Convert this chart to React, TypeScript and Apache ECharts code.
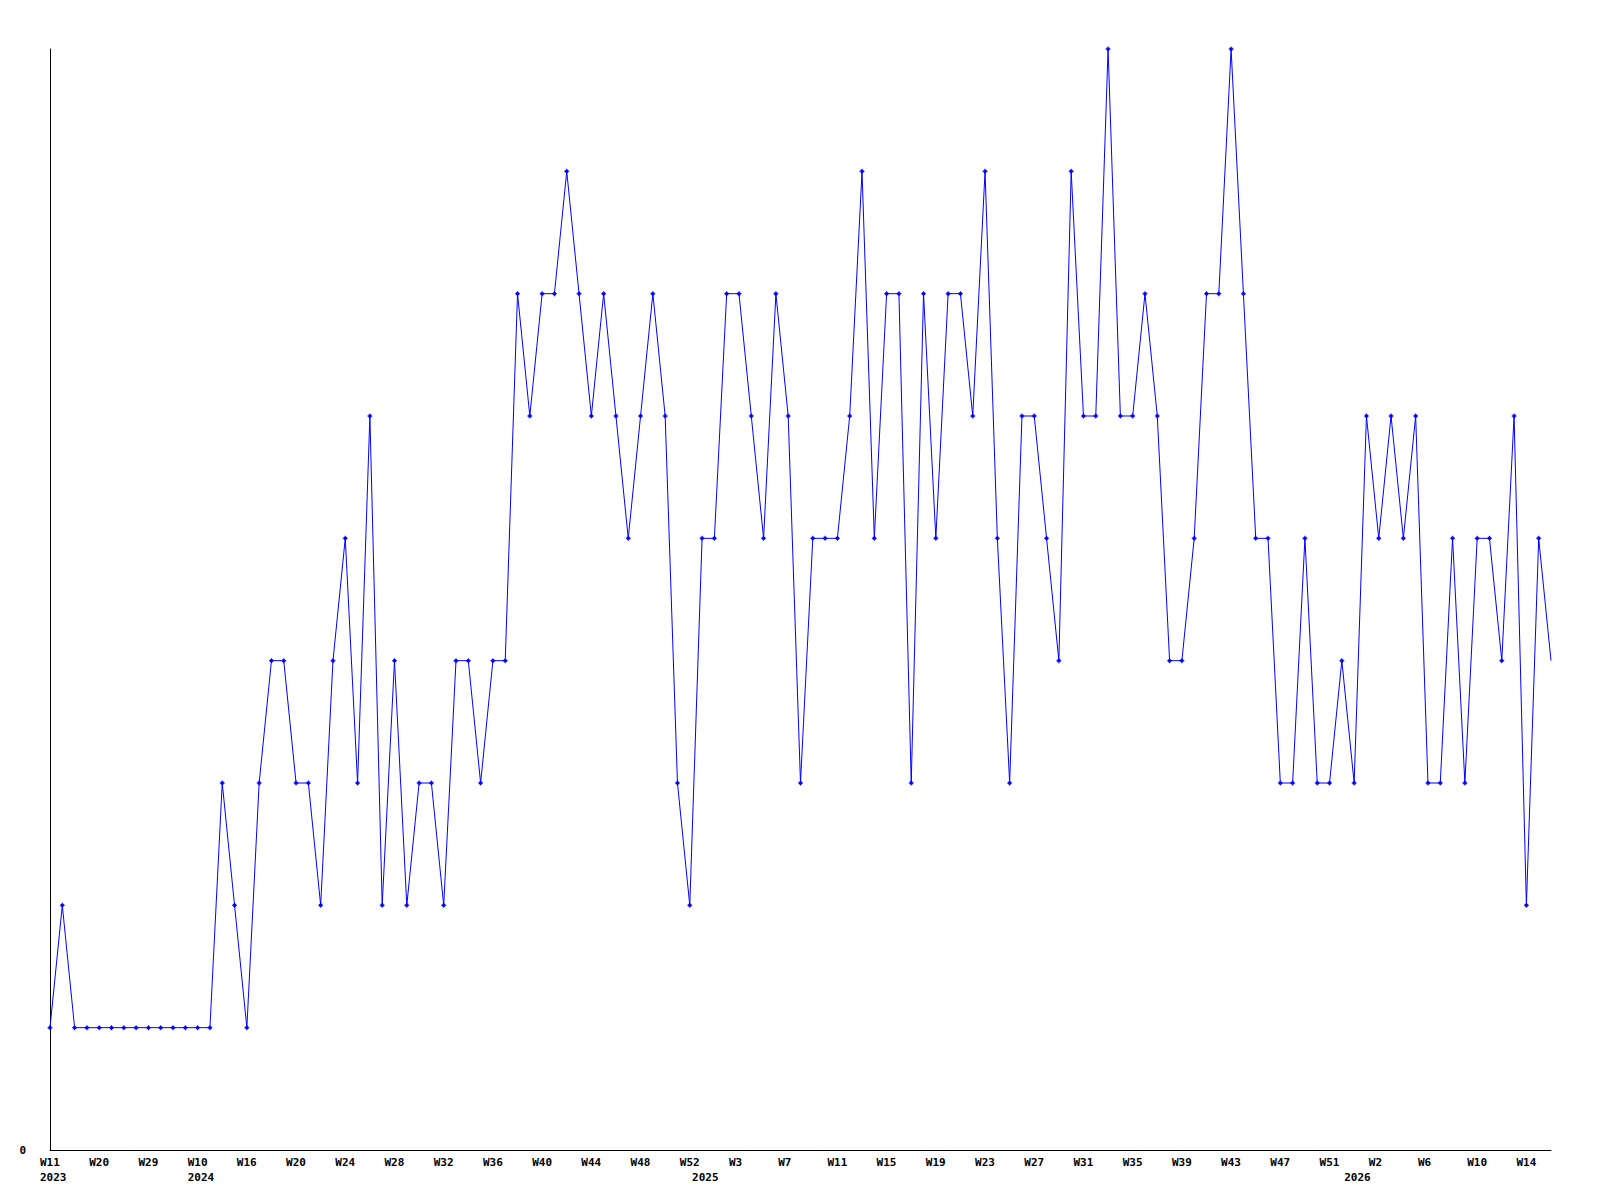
import React, { useEffect, useRef } from "react";
import * as echarts from "echarts";

// Week numbers of each point, grouped by year
const weeks2023 = [11, 13, 16, 18, 20, 22, 25, 27, 29, 31, 35, 38];
const weeks2024 = [10, 12, 13, 15, 16, 17, 18, 19, 20, 21, 22, 23, 24, 25, 26, 27, 28, 29, 30, 31, 32, 33, 34, 35, 36, 37, 38, 39, 40, 41, 42, 43, 44, 45, 46, 47, 48, 49, 50, 51, 52];
const weeks2025 = [0, 1, 2, 3, 4, 5, 6, 7, 8, 9, 10, 11, 12, 13, 14, 15, 16, 17, 18, 19, 20, 21, 22, 23, 24, 25, 26, 27, 28, 29, 30, 31, 32, 33, 34, 35, 36, 37, 38, 39, 40, 41, 42, 43, 44, 45, 46, 47, 48, 49, 50, 51, 52];
const weeks2026 = [0, 1, 2, 3, 4, 5, 6, 7, 8, 9, 10, 11, 12, 13, 14, 15, 16];

const values = [
  1, 2, 1, 1, 1, 1, 1, 1, 1, 1, 1, 1, 1, 1,
  3, 2, 1, 3, 4, 4, 3, 3, 2, 4, 5, 3, 6, 2, 4, 2, 3, 3, 2, 4, 4, 3, 4, 4,
  7, 6, 7, 7, 8, 7, 6, 7, 6, 5, 6, 7, 6, 3, 2, 5, 5, 7, 7, 6, 5, 7, 6, 3, 5, 5, 5, 6, 8, 5, 7, 7,
  3, 7, 5, 7, 7, 6, 8, 5, 3, 6, 6, 5, 4, 8, 6, 6, 9, 6, 6, 7, 6, 4, 4, 5, 7, 7, 9, 7, 5, 5, 3,
  3, 5, 3, 3, 4, 3, 6, 5, 6, 5, 6, 3, 3, 5, 3, 5, 5, 4, 6, 2, 5, 4,
];

const yearGroups: [number, number[]][] = [
  [2023, weeks2023],
  [2024, weeks2024],
  [2025, weeks2025],
  [2026, weeks2026],
];

const markerPath =
  "path://M2,0 L3,0 L3,1 L4,1 L4,2 L5,2 L5,3 L4,3 L4,4 L3,4 L3,5 L2,5 L2,4 L1,4 L1,3 L0,3 L0,2 L1,2 L1,1 L2,1 Z";

export default function App() {
  const ref = useRef<HTMLDivElement>(null);
  useEffect(() => {
    if (!ref.current) return;
    const chart = echarts.init(ref.current, null, { renderer: "svg" });
    const years: number[] = [];
    const weeks: number[] = [];
    yearGroups.forEach(([y, ws]) => ws.forEach((w) => { years.push(y); weeks.push(w); }));
    const cats = weeks.map((w, i) => `${years[i]}-W${w}`);
    const isYearStart = (i: number) => i === 0 || years[i] !== years[i - 1];
    const showLabel = (i: number) => i % 4 === 0 || isYearStart(i);
    const font = "'DejaVu Sans Mono', monospace";
    const last = values.length - 1;
    chart.setOption({
      animation: false,
      backgroundColor: "#ffffff",
      grid: { left: 50, right: 49, top: 49, bottom: 50, containLabel: false },
      xAxis: {
        type: "category",
        data: cats,
        boundaryGap: false,
        axisLine: { lineStyle: { color: "#000000", width: 1 } },
        axisTick: { show: false },
        splitLine: { show: false },
        axisLabel: {
          interval: (i: number) => showLabel(i),
          formatter: (_v: string, i: number) => {
            const wk = i % 4 === 0 ? `W${weeks[i]}` : "";
            return isYearStart(i) ? `${wk}\n${years[i]}` : wk;
          },
          align: "left",
          padding: [0, 0, 0, -10],
          margin: 5,
          lineHeight: 15,
          fontFamily: font,
          fontWeight: "bold",
          fontSize: 11,
          color: "#000000",
          hideOverlap: false,
        },
      },
      yAxis: {
        type: "value",
        min: 0,
        max: 9,
        interval: 9,
        axisLine: { show: true, lineStyle: { color: "#000000", width: 1 } },
        axisTick: { show: false },
        splitLine: { show: false },
        axisLabel: {
          formatter: (v: number) => (v === 0 ? "0" : ""),
          margin: 24,
          fontFamily: font,
          fontWeight: "bold",
          fontSize: 11,
          color: "#000000",
        },
      },
      series: [
        {
          type: "line",
          data: values.map((v, i) => (i === last ? { value: v, symbol: "none" } : v)),
          symbol: markerPath,
          symbolSize: 5,
          showAllSymbol: true,
          lineStyle: { color: "#0000ff", width: 1 },
          itemStyle: { color: "#0000ff" },
          emphasis: { disabled: true },
        },
      ],
    });
    return () => chart.dispose();
  }, []);
  return (
    <div
      ref={ref}
      style={{ position: "fixed", left: 0, top: 0, width: 1600, height: 1200 }}
    />
  );
}
